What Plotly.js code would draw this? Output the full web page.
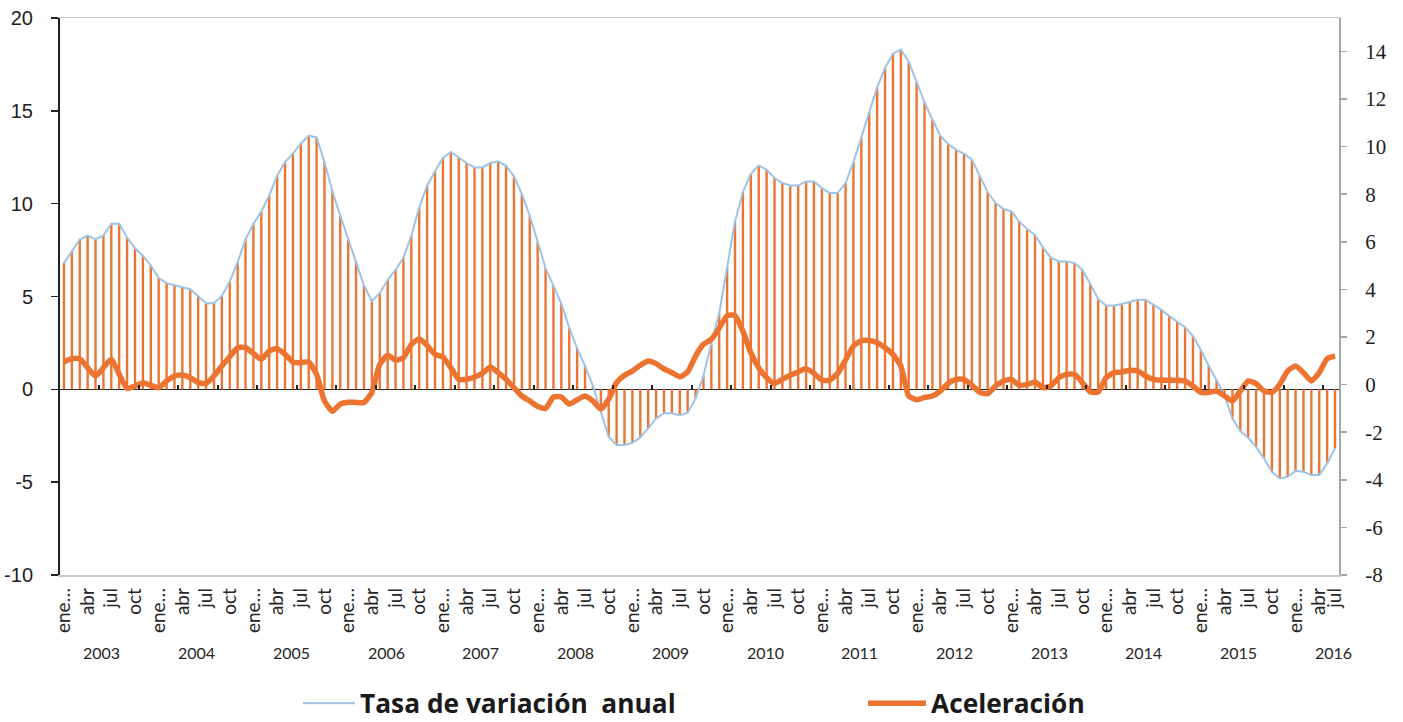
<!DOCTYPE html>
<html><head><meta charset="utf-8">
<script src="https://cdn.plot.ly/plotly-3.0.1.min.js"></script>
<style>html,body{margin:0;padding:0;background:#fff}#chart{width:1403px;height:722px}</style>
</head><body><div id="chart"></div>
<script>
// Monthly data, ene 2003 onward
const monthNames = ['ene…','feb','mar','abr','may','jun','jul','ago','sep','oct','nov','dic'];
const years = ['2003','2004','2005','2006','2007','2008','2009','2010','2011','2012','2013','2014','2015','2016'];
const lastTickLabel = 'jul';

// Tasa de variación anual (left axis)
const tasaAnual = [
 6.8, 7.42, 8.07, 8.28, 8.09, 8.28, 8.92, 8.92, 8.17, 7.6, 7.19, 6.67,
 5.99, 5.72, 5.59, 5.5, 5.39, 5.03, 4.64, 4.64, 5.03, 5.8, 6.85, 8.07,
 8.92, 9.58, 10.43, 11.5, 12.24, 12.69, 13.23, 13.66, 13.57, 12.24, 10.66, 9.36,
 8.07, 6.88, 5.59, 4.76, 5.18, 5.9, 6.43, 7.1, 8.27, 9.8, 10.97, 11.74,
 12.46, 12.78, 12.46, 12.19, 11.95, 11.95, 12.19, 12.28, 12.04, 11.47, 10.52, 9.35,
 7.96, 6.53, 5.59, 4.6, 3.32, 2.21, 1.26, 0.18, -1.2, -2.56, -3.0, -3.0,
 -2.88, -2.59, -2.1, -1.57, -1.29, -1.29, -1.39, -1.26, -0.49, 0.73, 2.48, 4.1,
 6.56, 9.04, 10.63, 11.61, 12.06, 11.83, 11.38, 11.11, 10.98, 10.98, 11.2, 11.2,
 10.84, 10.57, 10.57, 11.11, 12.24, 13.59, 14.94, 16.27, 17.31, 18.08, 18.3, 17.64,
 16.56, 15.46, 14.53, 13.66, 13.21, 12.9, 12.69, 12.37, 11.5, 10.63, 10.03, 9.71,
 9.58, 9.04, 8.63, 8.32, 7.64, 7.1, 6.88, 6.88, 6.8, 6.43, 5.68, 4.85,
 4.51, 4.51, 4.6, 4.73, 4.82, 4.82, 4.55, 4.28, 3.95, 3.65, 3.34, 2.87,
 2.12, 1.27, 0.5, -0.31, -1.57, -2.25, -2.61, -3.1, -3.72, -4.44, -4.8, -4.71,
 -4.39, -4.44, -4.62, -4.62, -3.99, -3.18
];

// Aceleración (right axis)
const aceleracion = [
 0.95, 1.09, 1.09, 0.71, 0.36, 0.71, 1.06, 0.43, -0.17, -0.06, 0.08, -0.03,
 -0.13, 0.15, 0.36, 0.4, 0.29, 0.08, 0.05, 0.36, 0.78, 1.17, 1.55, 1.55,
 1.31, 1.06, 1.41, 1.51, 1.27, 0.95, 0.92, 0.95, 0.43, -0.69, -1.12, -0.82,
 -0.74, -0.75, -0.75, -0.33, 0.85, 1.23, 1.03, 1.13, 1.69, 1.92, 1.64, 1.27,
 1.16, 0.71, 0.22, 0.22, 0.32, 0.47, 0.74, 0.5, 0.22, -0.13, -0.48, -0.69,
 -0.92, -1.0, -0.52, -0.52, -0.82, -0.64, -0.48, -0.69, -1.03, -0.62, 0.08, 0.39,
 0.57, 0.81, 0.99, 0.88, 0.66, 0.5, 0.33, 0.53, 1.2, 1.69, 1.9, 2.38,
 2.9, 2.9, 2.24, 1.34, 0.71, 0.29, 0.05, 0.22, 0.39, 0.53, 0.67, 0.47,
 0.19, 0.19, 0.47, 1.03, 1.62, 1.85, 1.85, 1.76, 1.55, 1.27, 0.78, -0.48,
 -0.64, -0.54, -0.48, -0.27, 0.05, 0.22, 0.22, -0.03, -0.33, -0.38, -0.06, 0.15,
 0.22, -0.03, 0.01, 0.11, -0.13, -0.06, 0.29, 0.43, 0.43, 0.08, -0.31, -0.31,
 0.29, 0.5, 0.53, 0.6, 0.57, 0.36, 0.22, 0.18, 0.18, 0.18, 0.15, -0.06,
 -0.33, -0.33, -0.27, -0.48, -0.69, -0.27, 0.15, 0.04, -0.27, -0.33, 0.01, 0.57,
 0.78, 0.5, 0.15, 0.5, 1.09, 1.2
];

const leftTickVals = [-10, -5, 0, 5, 10, 15, 20];
const leftTickText = ['-10', '-5', '0', '5', '10', '15', '20'];
const rightTickVals = [-8, -6, -4, -2, 0, 2, 4, 6, 8, 10, 12, 14];
const rightTickText = ['-8', '-6', '-4', '-2', '0', '2', '4', '6', '8', '10', '12', '14'];

const N = tasaAnual.length;
const idx = tasaAnual.map((_, i) => i);

const monthTickVals = [], monthTickText = [];
for (let i = 0; i < N; i += 3) { monthTickVals.push(i); monthTickText.push(monthNames[i % 12]); }
monthTickVals.push(N - 1); monthTickText.push(lastTickLabel);

const zeroTicks = [];
for (let k = 5; k < N; k += 5) zeroTicks.push(k - 0.5);

const orange = '#EC7430';
const blue = '#9DC3E6';
const xr = [-0.5, N - 0.5];
const leftRange = [-10, 20];
const rightRange = [-8, 15.4];

const traces = [
  { type: 'bar', x: idx, y: tasaAnual, width: 0.3, marker: { color: orange, line: { width: 0 } },
    xaxis: 'x', yaxis: 'y', showlegend: false, hoverinfo: 'skip' },
  { type: 'scatter', mode: 'lines', name: 'Tasa de variación  anual', x: idx, y: tasaAnual,
    line: { color: blue, width: 2 }, xaxis: 'x2', yaxis: 'y', legend: 'legend' },
  { type: 'scatter', mode: 'lines', name: 'Aceleración', x: idx, y: aceleracion,
    line: { color: orange, width: 5.5, shape: 'spline', smoothing: 0.5 }, xaxis: 'x2', yaxis: 'y2', legend: 'legend2' }
];

const annotations = years.map((yr, k) => ({
  text: yr, x: k * 12 + 4.8, xref: 'x', y: -0.14, yref: 'paper', xanchor: 'center', yanchor: 'middle',
  showarrow: false, font: { family: 'Lato', size: 16, color: '#262626' }
}));

const legendBase = {
  orientation: 'h', xref: 'container', yref: 'container', xanchor: 'left', yanchor: 'middle', y: 0.0255,
  bgcolor: 'rgba(0,0,0,0)', borderwidth: 0,
  font: { family: 'Open Sans', size: 26.3, weight: 700, color: '#1a1a1a' }
};

const layout = {
  width: 1403, height: 722,
  margin: { l: 60, r: 64, t: 18, b: 147, pad: 0, autoexpand: false },
  paper_bgcolor: '#ffffff', plot_bgcolor: '#ffffff',
  showlegend: true,
  xaxis: { range: xr, tickvals: monthTickVals, ticktext: monthTickText, tickangle: -90, ticks: '',
    showline: true, linecolor: '#C8C8C8', linewidth: 1.5, mirror: true, showgrid: false, zeroline: false,
    automargin: false,
    tickfont: { family: 'Lato', size: 19, color: '#262626' }, ticklabelstandoff: 4, fixedrange: true },
  xaxis2: { overlaying: 'x', anchor: 'free', position: 1 / 3, range: xr, showline: false, ticks: 'inside',
    ticklen: 4, tickwidth: 2, tickcolor: '#222', tickvals: zeroTicks, showticklabels: false,
    showgrid: false, zeroline: false, automargin: false },
  yaxis: { range: leftRange, tickvals: leftTickVals, ticktext: leftTickText, ticks: 'outside', ticklen: 7,
    tickwidth: 1.5, tickcolor: '#222', showline: true, linecolor: '#222', linewidth: 2, showgrid: false,
    zeroline: true, zerolinecolor: '#222', zerolinewidth: 1.5, automargin: false,
    tickfont: { family: 'Liberation Sans', size: 20, color: '#222' }, ticklabelstandoff: 14 },
  yaxis2: { overlaying: 'y', side: 'right', anchor: 'x', range: rightRange, tickvals: rightTickVals,
    ticktext: rightTickText, ticks: 'outside', ticklen: 6, tickwidth: 1.5, tickcolor: '#A6A6A6',
    showline: true, linecolor: '#A6A6A6', linewidth: 2, showgrid: false, zeroline: false, automargin: false,
    tickfont: { family: 'Liberation Serif', size: 21, color: '#222' }, ticklabelstandoff: 14 },
  yaxis3: { overlaying: 'y', side: 'left', anchor: 'x', range: leftRange, tickvals: leftTickVals,
    ticks: 'inside', ticklen: 7, tickwidth: 1.5, tickcolor: '#222', showticklabels: false,
    showline: false, showgrid: false, zeroline: false, automargin: false },
  yaxis4: { overlaying: 'y', side: 'right', anchor: 'x', range: rightRange, tickvals: rightTickVals,
    ticks: 'inside', ticklen: 6, tickwidth: 1.5, tickcolor: '#A6A6A6', showticklabels: false,
    showline: false, showgrid: false, zeroline: false, automargin: false },
  legend: Object.assign({}, legendBase, { x: 0.2124, itemwidth: 52 }),
  legend2: Object.assign({}, legendBase, { x: 0.6151, itemwidth: 58 }),
  annotations: annotations
};

Plotly.newPlot('chart', traces, layout, { displayModeBar: false, staticPlot: true });
</script>
</body></html>
